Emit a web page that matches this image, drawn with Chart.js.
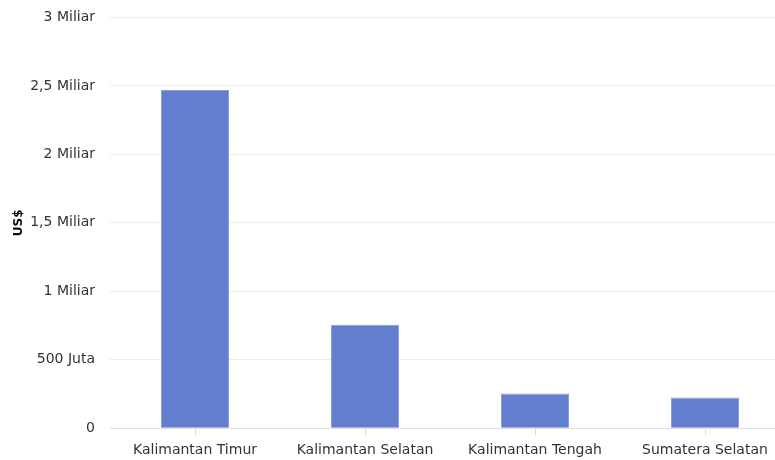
<!DOCTYPE html>
<html>
<head>
<meta charset="utf-8">
<script src="https://cdn.jsdelivr.net/npm/chart.js@4/dist/chart.umd.min.js"></script>
<style>
  html, body { margin: 0; padding: 0; background: #fff; overflow: hidden; }
  #wrap { width: 790px; height: 472px; margin-top: -6px; }
</style>
</head>
<body>
<div id="wrap"><canvas id="chart" width="790" height="472"></canvas></div>
<script>
// Provinces and export values (US$)
const provinces = ["Kalimantan Timur", "Kalimantan Selatan", "Kalimantan Tengah", "Sumatera Selatan"];
const exportValues = [2.47e9, 0.755e9, 0.254e9, 0.225e9];
const yTicks = [0, 5e8, 1e9, 1.5e9, 2e9, 2.5e9, 3e9];

function formatTick(v) {
  if (v === 0) return "0";
  if (v >= 1e9) return String(v / 1e9).replace(".", ",") + " Miliar";
  return String(v / 1e6).replace(".", ",") + " Juta";
}

const ctx = document.getElementById("chart").getContext("2d");

new Chart(ctx, {
  type: "bar",
  data: {
    labels: provinces,
    datasets: [
      {
        label: "US$",
        data: exportValues,
        backgroundColor: "rgb(99, 126, 206)",
        borderColor: "rgba(140, 160, 225, 1)",
        borderWidth: 1,
        barPercentage: 0.8,
        categoryPercentage: 0.5,
      },
    ],
  },
  options: {
    responsive: false,
    animation: false,
    layout: { padding: { top: 3, left: 12, right: 0, bottom: 0 } },
    plugins: {
      legend: { display: false },
      tooltip: { enabled: false },
    },
    scales: {
      x: {
        grid: {
          display: true,
          drawOnChartArea: false,
          drawTicks: true,
          tickLength: 7,
          offset: false,
          color: "#d9d9d9",
        },
        border: { color: "#e0e0e0" },
        ticks: {
          color: "#333",
          font: { family: "Verdana, 'DejaVu Sans', sans-serif", size: 14 },
          padding: 7,
          maxRotation: 0,
        },
      },
      y: {
        min: 0,
        max: 3e9,
        afterBuildTicks: (axis) => {
          axis.ticks = yTicks.map((v) => ({ value: v }));
        },
        afterFit: (axis) => {
          axis.width = 98;
        },
        grid: { color: "#ececec", drawTicks: false },
        border: { display: false },
        ticks: {
          color: "#333",
          padding: 15,
          font: { family: "Verdana, 'DejaVu Sans', sans-serif", size: 14 },
          callback: (v) => formatTick(v),
        },
        title: {
          display: true,
          text: "US$",
          color: "#111",
          padding: { top: 0, bottom: -8 },
          font: { family: "Verdana, 'DejaVu Sans', sans-serif", size: 12, weight: "bold" },
        },
      },
    },
  },
});
</script>
</body>
</html>
